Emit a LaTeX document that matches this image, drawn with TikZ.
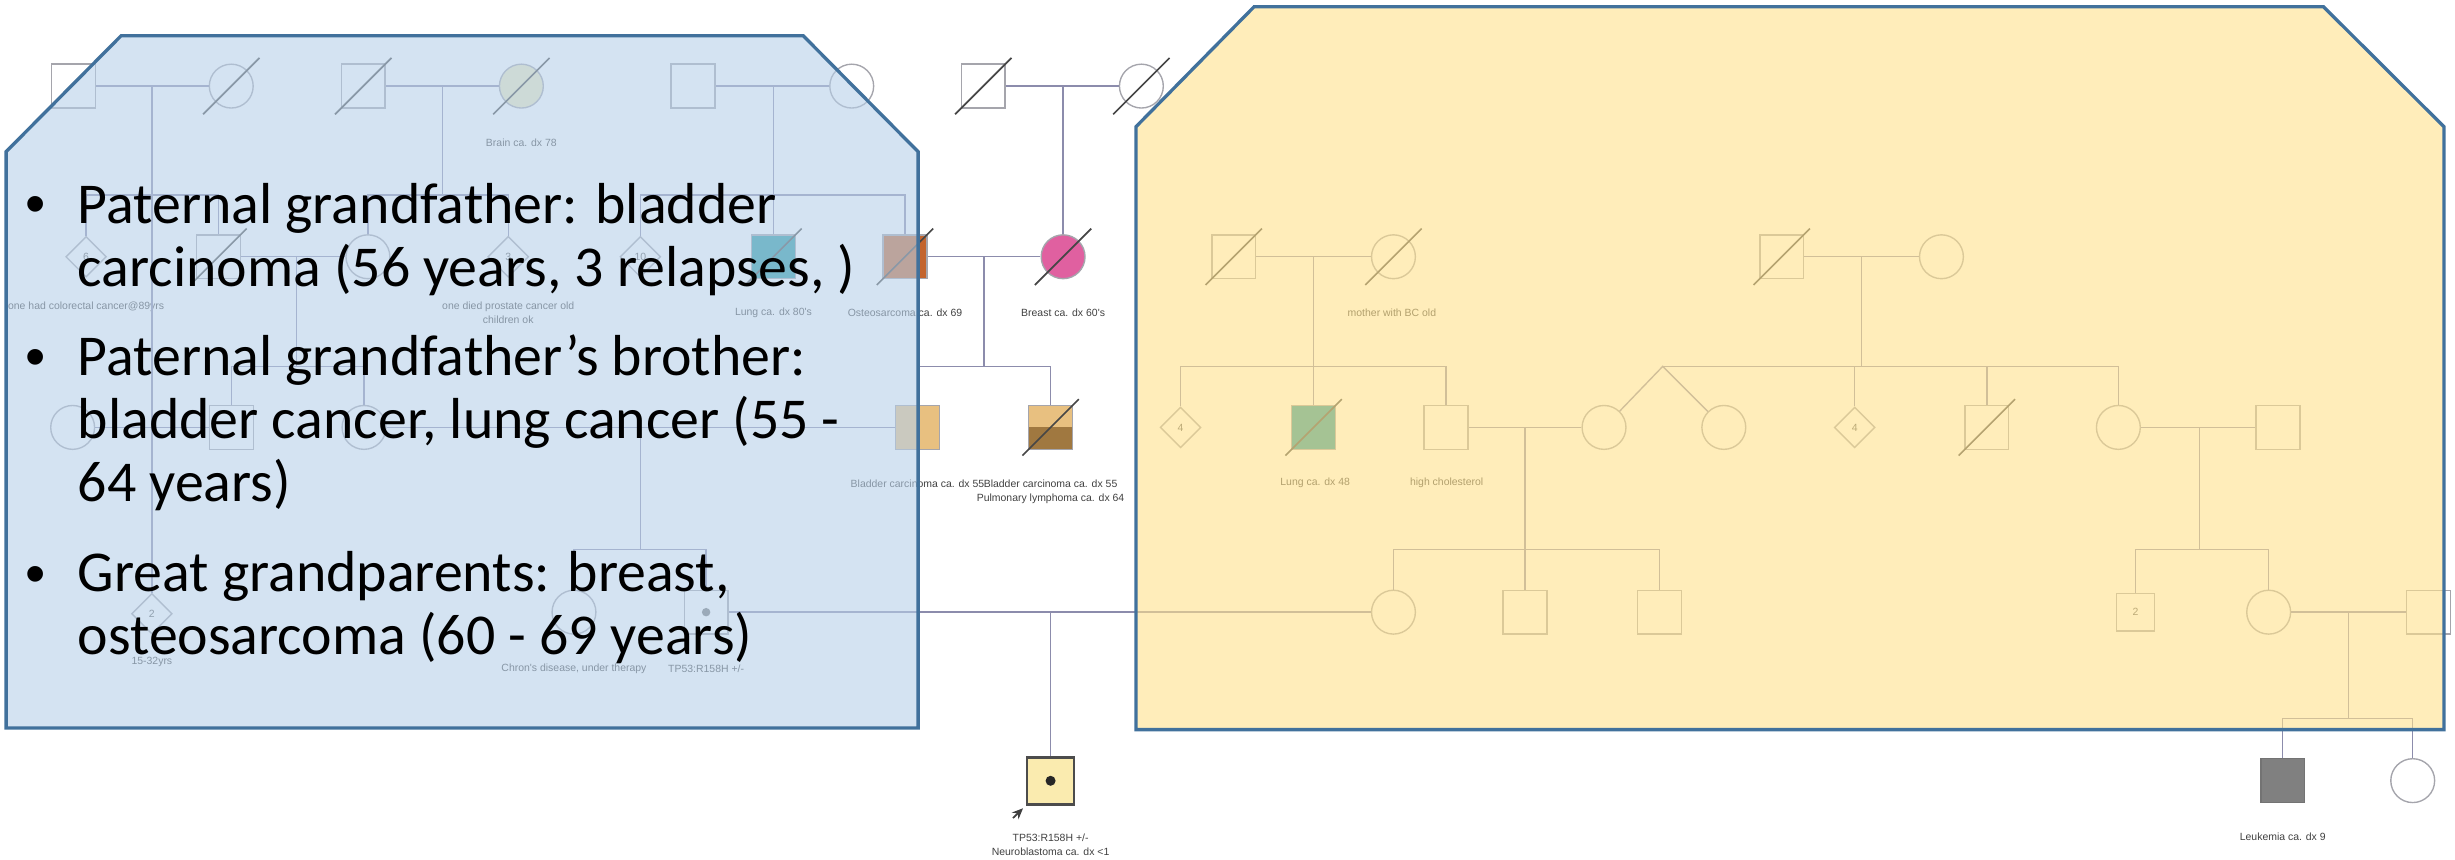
\documentclass[tikz,border=0pt]{standalone}
\usepackage{fontspec}
\setmainfont{Carlito}
\newfontfamily\pedfont{Liberation Sans}
\usetikzlibrary{shapes.geometric,arrows.meta}

\definecolor{relline}{RGB}{140,140,172}
\definecolor{symline}{RGB}{165,165,172}
\definecolor{slashc}{RGB}{70,70,70}
\definecolor{lungc}{RGB}{30,150,160}
\definecolor{osteoc}{RGB}{195,100,45}
\definecolor{breastc}{RGB}{224,96,160}
\definecolor{bladderc}{RGB}{232,192,128}
\definecolor{lymphc}{RGB}{160,120,64}
\definecolor{brainc}{RGB}{240,235,190}
\definecolor{leukc}{RGB}{128,128,128}
\definecolor{probc}{RGB}{250,235,175}
\definecolor{paneline}{RGB}{65,113,156}
\definecolor{bluepane}{RGB}{183,208,233}
\definecolor{yellowpane}{RGB}{255,225,140}

\begin{document}
\begin{tikzpicture}[
    x=0.01cm, y=-0.01cm,
    >={Stealth[length=0.7mm,width=0.6mm]},
    ind/.style={draw=symline, line width=0.25pt, inner sep=0pt},
    male/.style={ind, rectangle, minimum size=2.8mm},
    female/.style={ind, circle, minimum size=2.8mm},
    unknown/.style={ind, diamond, aspect=1, minimum size=2.6mm,
        font=\pedfont\fontsize{1.9}{2.2}\selectfont, text=black!65},
    dead/.style={append after command={
        ([shift={(-1.8mm,-1.8mm)}]\tikzlastnode.center) edge[draw=slashc, line width=0.3pt]
        ([shift={(1.8mm,1.8mm)}]\tikzlastnode.center)}},
    carrier/.style={path picture={\fill[black!55] (path picture bounding box.center) circle (0.27mm);}},
    rel/.style={draw=relline, line width=0.25pt},
    lbl/.style={font=\pedfont\fontsize{1.9}{2.5}\selectfont, text=black!75, align=center, inner sep=0pt},
    pane/.style={draw=paneline, line width=0.6pt, fill opacity=0.6},
    bul/.style={font=\fontsize{10.5}{11.5}\selectfont, anchor=base west, inner sep=0pt, align=left},
    bdot/.style={font=\pedfont\fontsize{10.5}{11.5}\selectfont, anchor=base, inner sep=0pt},
]
\useasboundingbox (0,0) rectangle (1568,549);

% ---- oldest generation -------------------------------------------
\node[male] (A1) at (47,55) {};
\node[female, dead] (A2) at (147.7,55) {};
\node[male, dead] (B1) at (232,55) {};
\node[female, dead, fill=brainc] (B2) at (333,55) {};
\node[male] (C1) at (442.6,55) {};
\node[female] (C2) at (544,55) {};
\node[male, dead] (D1) at (628,55) {};
\node[female, dead] (D2) at (729,55) {};
\node[lbl] (lB2) at (333,91) {Brain ca. dx 78};

% ---- paternal great grandparents' generation ----------------------
\node[unknown] (U6) at (55,164) {6};
\node[male, dead] (S1) at (139.5,164) {};
\node[female] (W1) at (235,164) {};
\node[unknown] (U3) at (324.6,164) {3};
\node[unknown] (U10) at (409,164) {10};
\node[male, dead, fill=lungc] (L1) at (494,164) {};
\node[male, dead, fill=osteoc] (GF) at (578,164) {};
\node[female, dead, fill=breastc] (GM) at (679,164) {};
\node[lbl] (lU6) at (55,196) {one had colorectal cancer@89yrs};
\node[lbl] (lU3) at (324.6,200) {one died prostate cancer old\\children ok};
\node[lbl] (lL1) at (494,200) {Lung ca. dx 80's};
\node[lbl] (lGF) at (578,200) {Osteosarcoma ca. dx 69};
\node[lbl] (lGM) at (679,200) {Breast ca. dx 60's};

% ---- maternal grandparents' parents -------------------------------
\node[male, dead] (E1) at (788,164) {};
\node[female, dead] (E2) at (890,164) {};
\node[male, dead] (F1) at (1138,164) {};
\node[female] (F2) at (1240,164) {};
\node[lbl] (lE2) at (889,200) {mother with BC old};

% ---- grandparents' generation -------------------------------------
\node[female] (P1) at (46.4,273) {};
\node[male] (P2) at (148,273) {};
\node[female] (PGM) at (232.5,273) {};
\node[male, fill=bladderc] (PGF) at (586,273) {};
\node[male, dead, fill=bladderc,
    path picture={\fill[lymphc] (path picture bounding box.west) rectangle (path picture bounding box.south east);}]
    (BR) at (671,273) {};
\node[lbl] (lPGF) at (586,309) {Bladder carcinoma ca. dx 55};
\node[lbl] (lBR) at (671,314) {Bladder carcinoma ca. dx 55\\Pulmonary lymphoma ca. dx 64};

\node[unknown] (U4a) at (754,273) {4};
\node[male, dead, fill=lungc] (L2) at (839,273) {};
\node[male] (H1) at (923.5,273) {};
\node[female] (H2) at (1024.5,273) {};
\node[female] (T2) at (1101,273) {};
\node[unknown] (U4b) at (1184.6,273) {4};
\node[male, dead] (K1) at (1269,273) {};
\node[female] (K2) at (1353,273) {};
\node[male] (K3) at (1455,273) {};
\node[lbl] (lL2) at (840,308.5) {Lung ca. dx 48};
\node[lbl] (lH1) at (924,308.5) {high cholesterol};

% ---- parents' generation ------------------------------------------
\node[unknown] (U2) at (97,392) {2};
\node[female] (CD) at (366.6,391) {};
\node[male, carrier] (FA) at (451,391) {};
\node[female] (MO) at (890,391) {};
\node[male] (Q1) at (974,391) {};
\node[male] (Q2) at (1060,391) {};
\node[male, minimum size=2.4mm, font=\pedfont\fontsize{1.9}{2.2}\selectfont, text=black!65] (N2) at (1364,391) {2};
\node[female] (N1) at (1449,391) {};
\node[male] (N3) at (1551,391) {};
\node[lbl] (lU2) at (97,423) {15-32yrs};
\node[lbl] (lCD) at (366.6,427) {Chron's disease, under therapy};
\node[lbl] (lFA) at (451,427) {TP53:R158H +/-};

% ---- children ------------------------------------------------------
\node[male, draw=black!70, line width=0.45pt, minimum size=3mm, fill=probc,
    path picture={\fill[black!85] (path picture bounding box.center) circle (0.32mm);}] (PR) at (671,498.7) {};
\node[male, fill=leukc, draw=black!55] (LK) at (1458,498.6) {};
\node[female] (V1) at (1541,498.6) {};
\node[lbl] (lPR) at (671,539.6) {TP53:R158H +/-\\Neuroblastoma ca. dx <1};
\node[lbl] (lLK) at (1458,534.5) {Leukemia ca. dx 9};
\coordinate (arr) at (647,522.5);
\draw[->, draw=black!75, line width=0.3pt, shorten >=0.25mm] (arr) -- (PR.south west);

% ---- relationship lines -------------------------------------------
\coordinate (mA) at (97,55);      \coordinate (sA) at (97,124.5);
\coordinate (mB) at (282.6,55);   \coordinate (sB) at (282.6,124.5);
\coordinate (mC) at (494,55);     \coordinate (sC) at (494,124.5);
\coordinate (mD) at (679,55);
\coordinate (mS) at (189.5,164);  \coordinate (sS) at (189.5,234);
\coordinate (mG) at (628.5,164);  \coordinate (sG) at (628.5,234);
\coordinate (mPG) at (409,273);   \coordinate (sPG) at (409,351);
\coordinate (mFM) at (671,391);
\coordinate (mE) at (839,164);    \coordinate (sE) at (839,234);
\coordinate (mF) at (1189,164);   \coordinate (sF) at (1189,234);
\coordinate (tw) at (1062,234);
\coordinate (mH) at (974,273);    \coordinate (sH) at (974,351);
\coordinate (mK) at (1405,273);   \coordinate (sK) at (1405,351);
\coordinate (mN) at (1500,391);   \coordinate (sN) at (1500,459);

\draw[rel] (A1) -- (A2);
\draw[rel] (B1) -- (B2);
\draw[rel] (C1) -- (C2);
\draw[rel] (D1) -- (D2);
\draw[rel] (mA) -- (U2);
\draw[rel] (U6) |- (sA) -| (S1);
\draw[rel] (mB) -- (sB);
\draw[rel] (W1) |- (sB) -| (U3);
\draw[rel] (mC) -- (L1);
\draw[rel] (U10) |- (sC) -| (GF);
\draw[rel] (mD) -- (GM);

\draw[rel] (S1) -- (W1);
\draw[rel] (mS) -- (sS);
\draw[rel] (P2) |- (sS) -| (PGM);
\draw[rel] (GF) -- (GM);
\draw[rel] (mG) -- (sG);
\draw[rel] (PGF) |- (sG) -| (BR);

\draw[rel] (P1) -- (P2);
\draw[rel] (PGM) -- (PGF);
\draw[rel] (mPG) -- (sPG);
\draw[rel] (CD) |- (sPG) -| (FA);
\draw[rel] (FA) -- (MO);
\draw[rel] (mFM) -- (PR);

\draw[rel] (E1) -- (E2);
\draw[rel] (mE) -- (L2);
\draw[rel] (U4a) |- (sE) -| (H1);
\draw[rel] (F1) -- (F2);
\draw[rel] (mF) -- (sF);
\draw[rel] (H2) -- (tw) -- (T2);
\draw[rel] (tw) -| (K2);
\draw[rel] (U4b) -- (U4b |- tw);
\draw[rel] (K1) -- (K1 |- tw);
\draw[rel] (H1) -- (H2);
\draw[rel] (mH) -- (Q1);
\draw[rel] (MO) |- (sH) -| (Q2);
\draw[rel] (K2) -- (K3);
\draw[rel] (mK) -- (sK);
\draw[rel] (N2) |- (sK) -| (N1);
\draw[rel] (N1) -- (N3);
\draw[rel] (mN) -- (sN);
\draw[rel] (LK) |- (sN) -| (V1);

% ---- overlay panes -------------------------------------------------
\filldraw[pane, fill=bluepane] (3.9,96.9) -- (77.4,22.8) -- (513,22.8) -- (586.4,96.9)
    -- (586.4,465) -- (3.9,465) -- cycle;
\filldraw[pane, fill=yellowpane] (725.5,81) -- (801,4.3) -- (1484,4.3) -- (1561,81)
    -- (1561,466) -- (725.5,466) -- cycle;

% ---- notes (base = last line) --------------------------------------
\node[bdot] (d1) at (23,142.6) {•};
\node[bul] (t1) at (49,183) {Paternal grandfather: bladder\\carcinoma (56 years, 3 relapses, )};
\node[bdot] (d2) at (23,240.6) {•};
\node[bul] (t2) at (49,320.4) {Paternal grandfather’s brother:\\bladder cancer, lung cancer (55 -\\64 years)};
\node[bdot] (d3) at (23,378.9) {•};
\node[bul] (t3) at (49,418.3) {Great grandparents: breast,\\osteosarcoma (60 - 69 years)};

\end{tikzpicture}
\end{document}
